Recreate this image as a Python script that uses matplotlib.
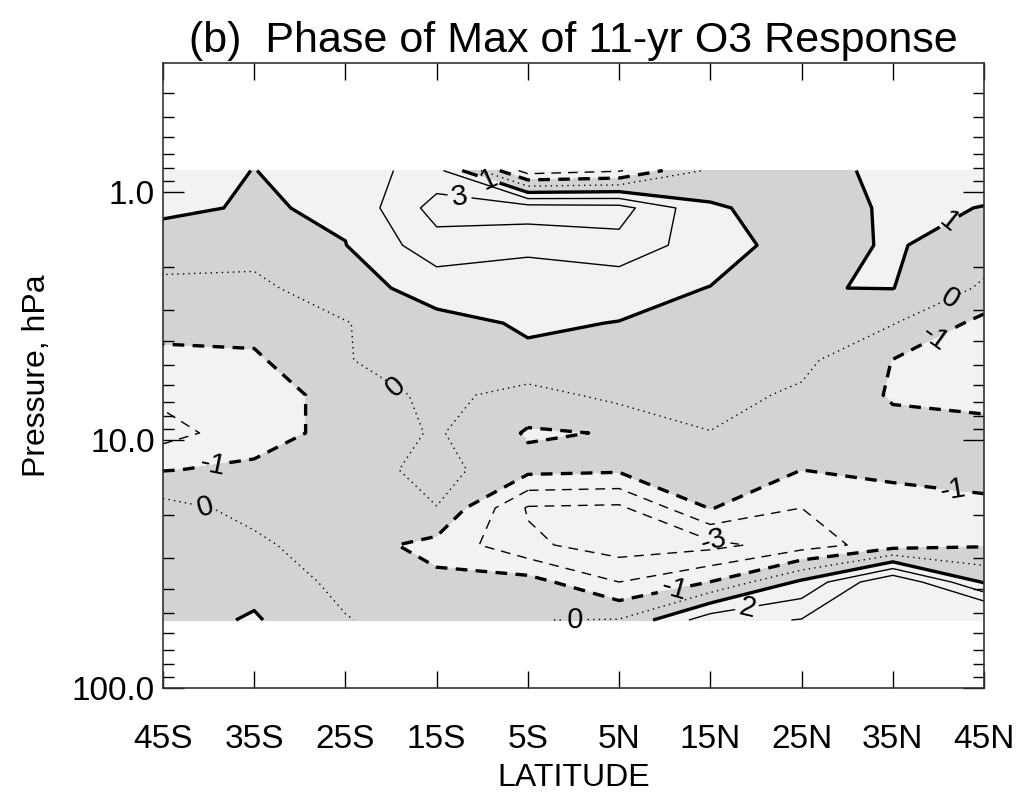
import numpy as np
import matplotlib
matplotlib.use('Agg')
import matplotlib.pyplot as plt

# ---------------- data ----------------
lats = [-45, -35, -25, -15, -5, 5, 15, 25, 35, 45]
lat_labels = ['45S', '35S', '25S', '15S', '5S', '5N', '15N', '25N', '35N', '45N']
pressure = [0.82, 1.16, 1.64, 2.44, 3.38, 4.76, 6.59, 9.37, 13.2, 18.8, 26.5, 37.4, 53.2]

# phase of max (years), rows = pressure levels, cols = latitudes
phase = [
    [1.50, 0.98, 1.60, 2.36, -2.50, -2.10, 0.20, 0.40, 1.40, 1.30],
    [1.20, 0.90, 1.15, 3.40, 3.50, 3.40, 1.15, 0.50, 1.15, 0.98],
    [0.52, 0.36, 0.98, 2.61, 2.34, 2.70, 1.40, 0.62, 1.10, 0.50],
    [-0.24, -0.23, 0.60, 1.40, 1.12, 1.30, 0.98, 0.98, 1.02, -0.15],
    [-0.71, -0.67, -0.05, 0.73, 1.10, 0.98, 0.80, 0.65, 0.05, -1.30],
    [-1.22, -1.15, -0.05, 0.50, 0.85, 0.80, 0.60, 0.25, -1.02, -1.50],
    [-1.74, -1.40, -0.69, 0.30, -0.40, 0.30, 0.30, -0.15, -1.10, -1.20],
    [-2.40, -1.40, -0.69, 0.115, -1.10, -0.95, -0.02, -0.60, -0.70, -0.80],
    [-1.04, -0.83, -0.50, 0.35, -0.72, -0.85, -0.50, -1.00, -0.80, -0.50],
    [0.35, -0.30, -0.70, -0.02, -3.10, -3.20, -0.95, -2.00, -1.40, -1.30],
    [0.50, 0.20, -0.60, -1.30, -2.80, -3.50, -3.30, -2.50, -1.50, -1.10],
    [0.60, 0.70, -0.30, -0.80, -0.60, -2.00, -0.98, 1.20, 4.00, 0.90],
    [0.60, 1.10, 0.06, -0.60, -0.02, 0.05, 2.60, 3.05, 4.00, 5.10],
]

contour_levels = [-3, -2, -1, 0, 1, 2, 3]
fill_bounds = [-100, -1, 1, 100]
pressure_ticks = [1.0, 10.0, 100.0]
pressure_tick_labels = ['1.0', '10.0', '100.0']
minor_pressures = [0.4, 0.5, 0.6, 0.7, 0.8, 0.9,
                   2, 3, 4, 5, 6, 7, 8, 9,
                   20, 30, 40, 50, 60, 70, 80, 90]

# label anchors (lat, pressure) for contour labels
label_anchors = [(-12.4, 1.01), (-9.4, 0.90), (-19.6, 6.1), (41.1, 2.65),
                 (41.0, 1.30), (39.4, 3.78), (-39.6, 12.4), (-40.2, 17.8),
                 (41.6, 15.8), (15.5, 24.5), (10.9, 38.9), (0.2, 49.0),
                 (19.1, 48.4)]

# ---------------- plot ----------------
plt.rcParams['font.family'] = ['Liberation Sans', 'DejaVu Sans']

fig = plt.figure(figsize=(10.19, 7.94), dpi=100)
ax = fig.add_axes([163 / 1019, 1 - 688 / 794, (984 - 163) / 1019, (688 - 63) / 794])

X = np.array(lats, dtype=float)
Y = np.log10(np.array(pressure))
Z = np.array(phase)

ax.contourf(X, Y, Z, levels=fill_bounds, colors=['#f2f2f2', '#d3d3d3', '#f2f2f2'])

lws = [2.4 if abs(l) == 1 else 1.0 for l in contour_levels]
lss = []
for l in contour_levels:
    if l == 0:
        lss.append((0, (1.0, 3.0)))
    elif l < 0:
        lss.append((0, (3.5, 2.5)) if l == -1 else (0, (7.0, 5.0)))
    else:
        lss.append('solid')
cs = ax.contour(X, Y, Z, levels=contour_levels, colors='black',
                linewidths=lws, linestyles=lss)

fmt = {l: '%d' % l for l in contour_levels}
manual = [(la, np.log10(p)) for la, p in label_anchors]
ax.clabel(cs, levels=contour_levels, fmt=fmt, fontsize=21, inline=True,
          inline_spacing=4, manual=manual)

ax.set_xlim(-45, 45)
ax.set_ylim(2.0, -0.52)
ax.set_xticks(lats)
ax.set_xticklabels(lat_labels)
ax.set_yticks(np.log10(pressure_ticks))
ax.set_yticklabels(pressure_tick_labels)
ax.set_yticks(np.log10(minor_pressures), minor=True)

ax.tick_params(axis='both', which='both', direction='in', top=True, right=True,
               labelsize=24, width=1.0)
ax.tick_params(axis='x', which='major', length=12, pad=26)
ax.tick_params(axis='y', which='major', length=15, pad=6)
ax.tick_params(axis='y', which='minor', length=8)
for s in ax.spines.values():
    s.set_linewidth(1.2)
    s.set_color('#333333')

ax.set_title('(b)  Phase of Max of 11-yr O3 Response', fontsize=31, pad=8)
ax.set_xlabel('LATITUDE', fontsize=23, labelpad=6)
ax.set_ylabel('Pressure, hPa', fontsize=23, labelpad=14)

fig.savefig('out.png', dpi=100)
